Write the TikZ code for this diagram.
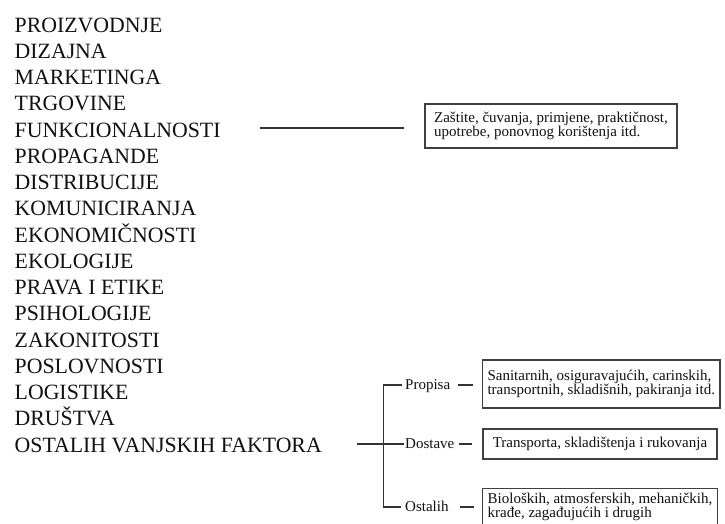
\documentclass[tikz,border=0pt]{standalone}
\usepackage{fontspec}
\setmainfont{Liberation Serif}
\definecolor{txt}{HTML}{111111}
\definecolor{ln}{HTML}{333333}
\definecolor{bd}{HTML}{404040}
\begin{document}
\begin{tikzpicture}[x=1pt,y=-1pt,
  listitem/.style={anchor=base west, inner sep=0pt, font=\fontsize{21.8}{26}\selectfont, text=txt},
  infobox/.style={draw=bd, line width=1.4pt, inner xsep=5pt, inner ysep=0pt, align=left,
    font=\fontsize{15}{14.5}\selectfont, text=txt},
  tlabel/.style={anchor=west, inner sep=0pt, text height=9pt, text depth=0pt,
    font=\fontsize{15}{18}\selectfont, text=txt},
  conn/.style={draw=ln, line width=1.2pt}]
\useasboundingbox (0,0) rectangle (725,523);
\clip (0,0) rectangle (725,523);
\fill[white] (0,0) rectangle (725,523);

\foreach \t [count=\i] in {PROIZVODNJE,DIZAJNA,MARKETINGA,TRGOVINE,FUNKCIONALNOSTI,PROPAGANDE,DISTRIBUCIJE,KOMUNICIRANJA,EKONOMIČNOSTI,EKOLOGIJE,PRAVA I ETIKE,PSIHOLOGIJE,ZAKONITOSTI,POSLOVNOSTI,LOGISTIKE,DRUŠTVA,OSTALIH VANJSKIH FAKTORA}
  \node[listitem] (l\i) at (14.5,{32+26.25*(\i-1)}) {\t};

% Funkcionalnosti branch
\node[infobox, minimum width=252pt, minimum height=44pt] (b1) at (551,126)
  {Zaštite, čuvanja, primjene, praktičnost,\\upotrebe, ponovnog korištenja itd.};
\coordinate (fa) at (260,128);
\draw[conn, shorten >=20pt] (fa) -- (fa -| b1.west);

% Ostalih vanjskih faktora tree
\node[tlabel] (prop) at (405,385) {Propisa};
\node[tlabel] (dost) at (405,444) {Dostave};
\node[tlabel] (ost) at (405,507) {Ostalih};
\coordinate (o) at (357,444);
\coordinate (j) at (383.5,444);
\draw[conn] (o) -- ([xshift=-1pt]dost.west);
\draw[conn] ([xshift=-3pt]prop.west) -| (j) |- ([xshift=-4pt]ost.west);

\node[infobox, minimum width=237.3pt, minimum height=48pt] (bp) at (601.3,384)
  {Sanitarnih, osiguravajućih, carinskih,\\transportnih, skladišnih, pakiranja itd.};
\node[infobox, minimum width=234.3pt, minimum height=30pt] (bdst) at (600,444)
  {Transporta, skladištenja i rukovanja};
\node[infobox, minimum width=234.3pt, minimum height=37pt] (bo) at (600,507)
  {Bioloških, atmosferskih, mehaničkih,\\krađe, zagađujućih i drugih};

\draw[conn, shorten <=8pt, shorten >=9pt] (prop.east) -- (prop.east -| bp.west);
\draw[conn, shorten <=4pt, shorten >=10pt] (dost.east) -- (dost.east -| bdst.west);
\draw[conn, shorten <=11pt, shorten >=8pt] (ost.east) -- (ost.east -| bo.west);
\end{tikzpicture}
\end{document}
